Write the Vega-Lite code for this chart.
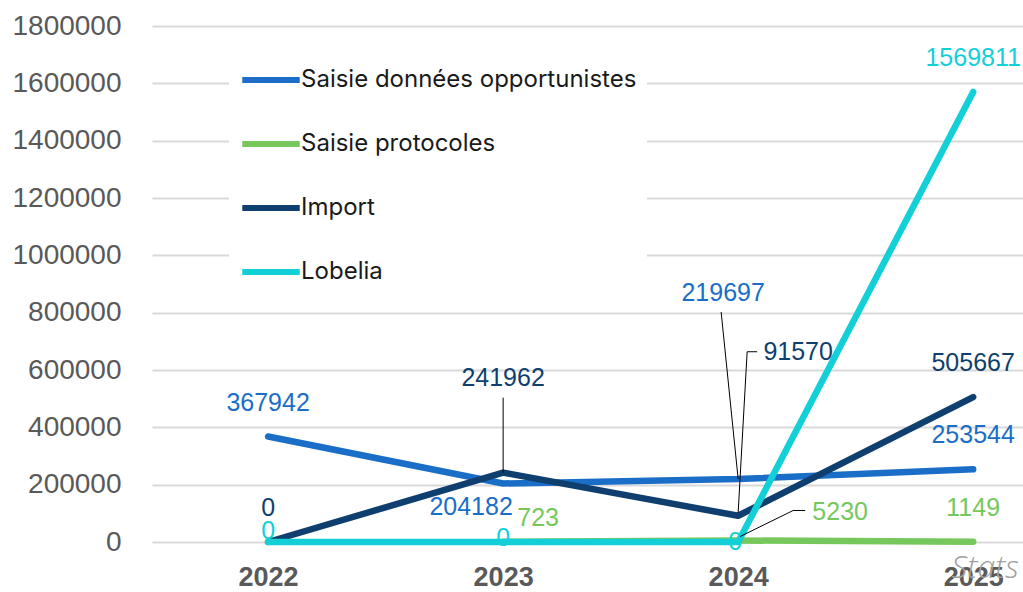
{
  "$schema": "https://vega.github.io/schema/vega-lite/v6.json",
  "width": 871,
  "height": 516,
  "autosize": {"type": "none"},
  "padding": {"left": 152, "top": 26, "right": 0, "bottom": 50},
  "background": "white",
  "title": {
    "text": "Stats",
    "orient": "bottom",
    "anchor": "end",
    "offset": -37,
    "dx": -4,
    "font": "Open Sans",
    "fontSize": 32,
    "fontStyle": "italic",
    "fontWeight": 300,
    "color": "#a0a0a0"
  },
  "config": {
    "view": {"stroke": null},
    "axis": {"labelFont": "Liberation Sans", "labelColor": "#595959", "labelFontSize": 28}
  },
  "data": {
    "values": [
      {"year": 2022, "series": "Saisie données opportunistes", "value": 367942},
      {"year": 2023, "series": "Saisie données opportunistes", "value": 204182},
      {"year": 2024, "series": "Saisie données opportunistes", "value": 219697},
      {"year": 2025, "series": "Saisie données opportunistes", "value": 253544},
      {"year": 2023, "series": "Saisie protocoles", "value": 723},
      {"year": 2024, "series": "Saisie protocoles", "value": 5230},
      {"year": 2025, "series": "Saisie protocoles", "value": 1149},
      {"year": 2022, "series": "Import", "value": 0},
      {"year": 2023, "series": "Import", "value": 241962},
      {"year": 2024, "series": "Import", "value": 91570},
      {"year": 2025, "series": "Import", "value": 505667},
      {"year": 2022, "series": "Lobelia", "value": 0},
      {"year": 2023, "series": "Lobelia", "value": 0},
      {"year": 2024, "series": "Lobelia", "value": 0},
      {"year": 2025, "series": "Lobelia", "value": 1569811}
    ]
  },
  "encoding": {
    "x": {
      "field": "year",
      "type": "quantitative",
      "scale": {"domain": [2021.506, 2025.212], "nice": false, "zero": false},
      "axis": {
        "values": [2022, 2023, 2024, 2025],
        "format": "d",
        "title": null,
        "grid": false,
        "domain": false,
        "ticks": false,
        "labelPadding": 22,
        "labelFontWeight": "bold",
        "labelFontSize": 27
      }
    },
    "y": {
      "field": "value",
      "type": "quantitative",
      "scale": {"domain": [0, 1800000], "nice": false},
      "axis": {
        "values": [0, 200000, 400000, 600000, 800000, 1000000, 1200000, 1400000, 1600000, 1800000],
        "format": "d",
        "title": null,
        "domain": false,
        "ticks": false,
        "labelPadding": 31,
        "gridColor": "#d9d9d9",
        "gridWidth": 2
      }
    },
    "color": {
      "field": "series",
      "type": "nominal",
      "scale": {
        "domain": ["Saisie données opportunistes", "Saisie protocoles", "Import", "Lobelia"],
        "range": ["#1a6ec8", "#76c85c", "#0f3f6e", "#12cfd8"]
      },
      "legend": null
    }
  },
  "layer": [
    {
      "mark": {"type": "line", "strokeWidth": 6.5, "strokeCap": "round", "strokeJoin": "round", "clip": false},
      "encoding": {
        "color": {
          "field": "series",
          "type": "nominal",
          "legend": {
            "orient": "none",
            "legendX": 77,
            "legendY": 12,
            "title": null,
            "fillColor": "white",
            "padding": 10,
            "symbolType": "stroke",
            "symbolSize": 3300,
            "symbolStrokeWidth": 6,
            "labelFont": "Inter",
            "labelFontSize": 24,
            "labelColor": "#1a1a1a",
            "labelOffset": -2,
            "labelLimit": 600,
            "rowPadding": 20,
            "symbolLimit": 10
          }
        }
      }
    },
    {
      "transform": [{"filter": "datum.year == 2025 || (datum.year == 2022 && datum.series != 'Lobelia')"}],
      "mark": {"type": "text", "font": "Liberation Sans", "fontSize": 25, "baseline": "middle", "dy": -34},
      "encoding": {"text": {"field": "value", "type": "quantitative", "format": "d"}}
    },
    {
      "transform": [{"filter": "datum.series == 'Lobelia' && datum.year == 2022"}],
      "mark": {"type": "text", "font": "Liberation Sans", "fontSize": 25, "baseline": "middle", "dy": -11},
      "encoding": {"text": {"field": "value", "type": "quantitative", "format": "d"}}
    },
    {
      "transform": [{"filter": "datum.series == 'Lobelia' && datum.year == 2023"}],
      "mark": {"type": "text", "font": "Liberation Sans", "fontSize": 25, "baseline": "middle", "dy": -4},
      "encoding": {"text": {"field": "value", "type": "quantitative", "format": "d"}}
    },
    {
      "transform": [{"filter": "datum.series == 'Lobelia' && datum.year == 2024"}],
      "mark": {"type": "text", "font": "Liberation Sans", "fontSize": 25, "baseline": "middle", "dy": 0, "dx": -3},
      "encoding": {"text": {"field": "value", "type": "quantitative", "format": "d"}}
    },
    {
      "transform": [{"filter": "datum.series == 'Saisie données opportunistes' && datum.year == 2023"}],
      "mark": {"type": "text", "font": "Liberation Sans", "fontSize": 25, "baseline": "middle", "dx": -32, "dy": 24},
      "encoding": {"text": {"field": "value", "type": "quantitative", "format": "d"}}
    },
    {
      "transform": [{"filter": "datum.series == 'Saisie protocoles' && datum.year == 2023"}],
      "mark": {"type": "text", "font": "Liberation Sans", "fontSize": 25, "baseline": "middle", "dx": 35, "dy": -24},
      "encoding": {"text": {"field": "value", "type": "quantitative", "format": "d"}}
    },
    {
      "transform": [{"filter": "datum.series == 'Saisie protocoles' && datum.year == 2024"}],
      "mark": {"type": "text", "font": "Liberation Sans", "fontSize": 25, "baseline": "middle", "dx": 102, "dy": -29},
      "encoding": {"text": {"field": "value", "type": "quantitative", "format": "d"}}
    },
    {
      "transform": [{"filter": "datum.series == 'Saisie données opportunistes' && datum.year == 2024"}],
      "mark": {"type": "text", "font": "Liberation Sans", "fontSize": 25, "baseline": "middle", "dx": -15, "dy": -186},
      "encoding": {"text": {"field": "value", "type": "quantitative", "format": "d"}}
    },
    {
      "transform": [{"filter": "datum.series == 'Import' && datum.year == 2023"}],
      "mark": {"type": "text", "font": "Liberation Sans", "fontSize": 25, "baseline": "middle", "dy": -95},
      "encoding": {"text": {"field": "value", "type": "quantitative", "format": "d"}}
    },
    {
      "transform": [{"filter": "datum.series == 'Import' && datum.year == 2024"}],
      "mark": {"type": "text", "font": "Liberation Sans", "fontSize": 25, "baseline": "middle", "dx": 60, "dy": -164},
      "encoding": {"text": {"field": "value", "type": "quantitative", "format": "d"}}
    },
    {
      "transform": [{"filter": "datum.series == 'Import' && datum.year == 2023"}],
      "mark": {"type": "rule", "color": "black", "strokeWidth": 1, "y2Offset": -75},
      "encoding": {"x2": {"field": "year"}, "y2": {"field": "value"}, "color": {"value": "black"}}
    },
    {
      "transform": [{"filter": "datum.series == 'Saisie données opportunistes' && datum.year == 2024"}],
      "mark": {"type": "rule", "color": "black", "strokeWidth": 1, "x2Offset": -17, "y2Offset": -167},
      "encoding": {"x2": {"field": "year"}, "y2": {"field": "value"}, "color": {"value": "black"}}
    },
    {
      "transform": [{"filter": "datum.series == 'Import' && datum.year == 2024"}],
      "mark": {"type": "rule", "color": "black", "strokeWidth": 1, "yOffset": -3, "x2Offset": 9, "y2Offset": -164},
      "encoding": {"x2": {"field": "year"}, "y2": {"field": "value"}, "color": {"value": "black"}}
    },
    {
      "transform": [{"filter": "datum.series == 'Import' && datum.year == 2024"}],
      "mark": {"type": "rule", "color": "black", "strokeWidth": 1, "xOffset": 9, "yOffset": -164, "x2Offset": 19, "y2Offset": -164},
      "encoding": {"x2": {"field": "year"}, "y2": {"field": "value"}, "color": {"value": "black"}}
    },
    {
      "transform": [{"filter": "datum.series == 'Saisie protocoles' && datum.year == 2024"}],
      "mark": {"type": "rule", "color": "black", "strokeWidth": 1, "xOffset": 2, "yOffset": -4, "x2Offset": 55, "y2Offset": -30},
      "encoding": {"x2": {"field": "year"}, "y2": {"field": "value"}, "color": {"value": "black"}}
    },
    {
      "transform": [{"filter": "datum.series == 'Saisie protocoles' && datum.year == 2024"}],
      "mark": {"type": "rule", "color": "black", "strokeWidth": 1, "xOffset": 55, "yOffset": -30, "x2Offset": 67, "y2Offset": -30},
      "encoding": {"x2": {"field": "year"}, "y2": {"field": "value"}, "color": {"value": "black"}}
    }
  ]
}
